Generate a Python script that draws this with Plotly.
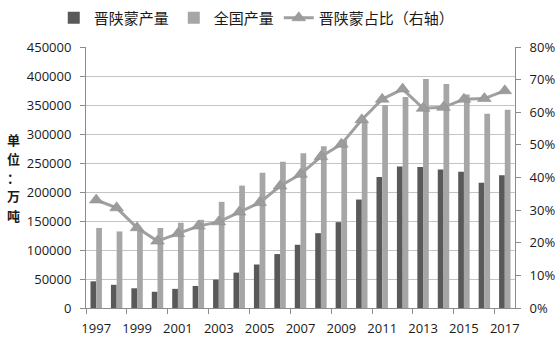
import plotly.graph_objects as go

years = list(range(1997, 2018))
# 晋陕蒙产量 (万吨)
jsm_output = [46000, 40000, 34000, 28000, 33000, 38000, 49000, 61000, 75000, 93000,
              109000, 129000, 148000, 187000, 226000, 244000, 243000, 239000, 235000, 216000, 229000]
# 全国产量 (万吨)
national_output = [138000, 132000, 133000, 138000, 147000, 152000, 183000, 211000, 233000, 252000,
                   267000, 279000, 290000, 323000, 350000, 364000, 395000, 386000, 368000, 335000, 342000]
# 晋陕蒙占比 (%)
jsm_share = [33.1, 30.7, 24.6, 20.5, 22.8, 25.1, 26.4, 29.4, 32.3, 37.4,
             41.0, 46.4, 50.2, 57.7, 64.0, 67.1, 61.2, 61.5, 64.0, 64.2, 66.6]

left_ticks = list(range(0, 450001, 50000))
right_ticks = list(range(0, 81, 10))
label_years = list(range(1997, 2018, 2))
boundary_ticks = [y - 0.5 for y in range(1997, 2019, 2)]
unit_chars = ["单", "位", "：", "万", "吨"]

tick_font = dict(family="Open Sans, Liberation Sans, sans-serif", size=13, color="#1a1a1a")
cjk = "Noto Sans CJK SC, sans-serif"

PLOT_TOP, PLOT_BOTTOM = 47, 308

fig = go.Figure()
fig.add_trace(go.Bar(x=years, y=jsm_output, name="晋陕蒙产量",
                     marker=dict(color="#595959", line=dict(width=0))))
fig.add_trace(go.Bar(x=years, y=national_output, name="全国产量",
                     marker=dict(color="#a6a6a6", line=dict(width=0))))
fig.add_trace(go.Scatter(x=years, y=jsm_share, name="晋陕蒙占比（右轴）", yaxis="y2",
                         mode="lines+markers",
                         line=dict(color="#a0a0a0", width=3),
                         marker=dict(symbol="triangle-up", size=12, color="#9c9c9c",
                                     line=dict(color="#8a8a8a", width=0.5))))

# vertical unit label, one character per annotation
unit_annotations = []
for i, ch in enumerate(unit_chars):
    ypix = 139 + 19 * i
    unit_annotations.append(dict(
        text=ch, xref="paper", yref="paper",
        x=-0.17, y=(PLOT_BOTTOM - ypix) / (PLOT_BOTTOM - PLOT_TOP),
        xanchor="center", yanchor="middle", showarrow=False, borderpad=0,
        font=dict(family=cjk, size=13, color="#1a1a1a", weight="bold")))

fig.update_layout(
    width=560, height=349,
    margin=dict(l=86, r=45, t=PLOT_TOP, b=349 - PLOT_BOTTOM, autoexpand=False),
    paper_bgcolor="white", plot_bgcolor="white",
    barmode="group", bargap=0.44, bargroupgap=0.0,
    showlegend=True,
    legend=dict(orientation="h", xref="container", yref="container",
                x=0.096, y=1 - 18 / 349, xanchor="left", yanchor="middle",
                font=dict(family=cjk, size=15, color="#1a1a1a"),
                itemwidth=30, tracegroupgap=0, traceorder="normal"),
    xaxis=dict(range=[1996.5, 2017.5], tickmode="array", tickvals=label_years,
               ticktext=[str(y) for y in label_years],
               ticks="", showgrid=False, showline=True, linecolor="#8c8c8c", linewidth=1,
               tickfont=tick_font, ticklabelstandoff=8,
               minor=dict(tickmode="array", tickvals=boundary_ticks, ticks="outside",
                          ticklen=5, tickcolor="#8c8c8c", showgrid=False)),
    yaxis=dict(range=[0, 450000], tickmode="array", tickvals=left_ticks,
               ticktext=[str(v) for v in left_ticks],
               showgrid=True, gridcolor="#c4c4c4", gridwidth=1,
               showline=True, linecolor="#8c8c8c", linewidth=1,
               ticks="outside", ticklen=5, tickcolor="#8c8c8c",
               tickfont=tick_font, ticklabelstandoff=6, zeroline=False),
    yaxis2=dict(range=[0, 80], overlaying="y", side="right", tickmode="array",
                tickvals=right_ticks, ticktext=[f"{v}%" for v in right_ticks],
                showgrid=False, showline=True, linecolor="#8c8c8c", linewidth=1,
                ticks="outside", ticklen=5, tickcolor="#8c8c8c",
                tickfont=tick_font, ticklabelstandoff=6, zeroline=False),
    annotations=unit_annotations,
)

fig.write_html("out.html")
